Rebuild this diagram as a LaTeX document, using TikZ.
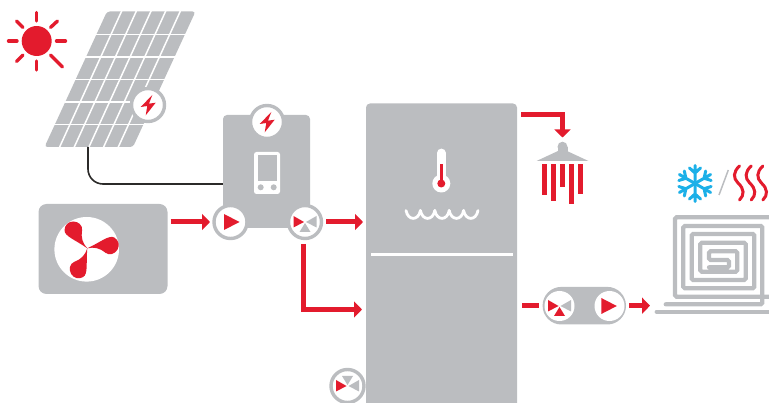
\documentclass[tikz,border=0pt]{standalone}
\usepackage{tikz}
\usetikzlibrary{arrows.meta,calc}

\definecolor{redc}{HTML}{E31B2D}
\definecolor{grayc}{HTML}{BBBDC0}
\definecolor{cyanc}{HTML}{1CB0E8}
\definecolor{wirec}{HTML}{2B2A29}

\newcommand{\valveicon}[4]{
    \fill[#2,shift={(#1)}] (-11.5,-6) -- (-11.5,5.5) -- (-1,0) -- cycle;
    \fill[grayc,shift={(#1)}] (11.5,-6) -- (11.5,5.5) -- (1,0) -- cycle;
    \fill[#3,shift={(#1)}] (0,#4*1) -- (-5.5,#4*10) -- (5.5,#4*10) -- cycle;
}
\newcommand{\pumpicon}[2]{
    \fill[redc,shift={(#1)}] (#2-6.5,-8) -- (#2-6.5,8) -- (#2+9,0) -- cycle;
}
\newcommand{\bolticon}[1]{
    \fill[redc,shift={(#1)}] (4.3,-10) -- (-7.3,2) -- (-0.7,1) -- (-2.3,10.3) -- (7.7,-2.3) -- (1,-1.3) -- cycle;
}

\begin{document}
\begin{tikzpicture}[
    x=1pt, y=-1pt,
    unit/.style={fill=grayc, rounded corners=4pt, inner sep=0pt, outer sep=0pt},
    ring/.style={circle, draw=grayc, fill=white, line width=3.4pt, minimum size=33pt, inner sep=0pt, outer sep=0pt},
    arr/.style={-{Triangle[length=8pt,width=16pt]}, redc, line width=5pt},
    ray/.style={redc, line width=3.4pt, line cap=round},
    pipe/.style={grayc, line width=4.2pt, line cap=round, rounded corners=1.5pt},
    wave/.style={white, line width=2.8pt, line cap=round},
    bar/.style={redc, line width=4.6pt},
    squig/.style={redc, line width=3pt, line cap=round},
    flakeline/.style={cyanc, line width=3pt, line cap=round}
]
\path[use as bounding box,clip] (0,0) rectangle (769,403);

\node[circle, fill=redc, minimum size=30pt, inner sep=0pt] (sun) at (36.7,41) {};
\draw[ray] (36.7,12.5) -- (36.7,21);
\draw[ray] (36.7,61) -- (36.7,70);
\draw[ray] (8.5,41) -- (17,41);
\draw[ray] (56.5,41) -- (65.5,41);
\draw[ray] (16.5,21) -- (23,27.5);
\draw[ray] (50.5,27.5) -- (57.5,21);
\draw[ray] (16.5,61.5) -- (23,55);
\draw[ray] (50.5,55) -- (62.5,67);

\fill[grayc, rounded corners=3pt] (107,11.5) -- (195.5,11.5) -- (133,147) -- (44.5,147) -- cycle;
\foreach \r in {1,...,5}
    \draw[white, line width=1.5pt] ({106-10.33*\r},{12+22.5*\r}) -- ({197-10.33*\r},{12+22.5*\r});
\foreach \c in {1,...,5}
    \draw[white, line width=1.5pt] ({107.5+14.67*\c},10) -- ({44.5+14.67*\c},148);
\coordinate (panelout) at (88,147);
\coordinate (wirein) at (223,184);
\node[ring] (panelbolt) at (148,105) {};
\bolticon{panelbolt}

\draw[wirec, line width=1.6pt, rounded corners=15pt] (panelout) |- (wirein);

\node[unit, fill=grayc, minimum width=129pt, minimum height=90pt, rounded corners=8pt] (hp) at (103,249) {};
\node[circle, fill=white, minimum size=64.6pt, inner sep=0pt] (fan) at (86.7,249.3) {};
\coordinate (fanhub) at (87.3,248.3);
\foreach \a in {0,120,240}
    \fill[redc, shift={(fanhub)}, rotate=\a] (0,0) .. controls (-4.5,-5) and (-6.5,-10) .. (-5.2,-18)
        .. controls (-4.5,-23) and (-9,-26.8) .. (-14,-26.8)
        .. controls (-19,-26.8) and (-22.8,-23) .. (-22.8,-18)
        .. controls (-22.8,-12) and (-12,-8.5) .. (0,0) -- cycle;

\node[unit, minimum width=87pt, minimum height=113pt] (ctrl) at (266.5,171.5) {};
\fill[white, rounded corners=2.5pt] (254,152) rectangle (280,194);
\fill[grayc] (257.5,155) rectangle (277,181);
\fill[grayc] (260.7,187.3) circle[radius=3pt] (273.7,187.3) circle[radius=3pt];

\node[ring] (ctrlbolt) at (267,122) {};
\bolticon{ctrlbolt}
\node[ring] (pumpa) at (230.5,222) {};
\pumpicon{pumpa}{0}
\node[ring] (valvea) at (305,222) {};
\valveicon{valvea}{redc}{grayc}{1}

\node[unit, minimum width=151pt, minimum height=320pt] (tank) at (441.5,263.5) {};
\draw[white, line width=3pt] (371,254.5) -- (513,254.5);
\coordinate (tankin) at (366,309.5);
\coordinate (tankout) at (517,115);

\draw[white, line width=8.8pt, line cap=round] (441.3,153) -- (441.3,183);
\fill[white] (441.3,183.5) circle[radius=9pt];
\draw[redc, line width=3.3pt] (441.3,164.5) -- (441.3,183);
\fill[redc] (441.3,183.5) circle[radius=4pt];
\foreach \i in {0,...,4}
    \draw[wave] ({406+14.4*\i},210.5) .. controls ({408+14.4*\i},221) and ({418.5+14.4*\i},221) .. ({420.4+14.4*\i},210.5);

\node[ring] (valvec) at (347.5,386) {};
\valveicon{valvec}{redc}{grayc}{-1}

\node[circle, fill=grayc, minimum size=10pt, inner sep=0pt] (shower) at (562.5,146.7) {};
\fill[grayc] (557.5,146.7) rectangle (567.5,153);
\fill[grayc] (536.5,161) -- (558,151) -- (567,151) -- (588.5,161) -- cycle;
\draw[bar] (544.3,164.3) -- (544.3,195);
\draw[bar] (553.3,164.3) -- (553.3,200.7);
\draw[bar] (562.7,164.3) -- (562.7,186.7);
\draw[bar] (571.7,164.3) -- (571.7,204);
\draw[bar] (580.7,164.3) -- (580.7,194.3);

\node[unit, minimum width=83.4pt, minimum height=37.6pt, rounded corners=18.7pt] (pair) at (584.3,305.7) {};
\node[circle, fill=white, minimum size=30pt, inner sep=0pt] (valveb) at (559.5,306) {};
\valveicon{valveb}{redc}{redc}{1}
\node[circle, fill=white, minimum size=30pt, inner sep=0pt] (pumpb) at (609.5,306) {};
\pumpicon{pumpb}{-1.7}
\coordinate (floorin) at (650,305.7);

\draw[arr, shorten <=3pt, shorten >=4pt] (hp.east |- pumpa) -- (pumpa);
\draw[arr, shorten <=3pt, shorten >=3pt] (valvea) ++(18,0) -- (tank.west |- valvea);
\draw[arr, shorten <=4pt, shorten >=4pt] (valvea.south) ++(-2,1.5) |- (tankin);
\draw[arr, shorten <=4pt, shorten >=4pt] (tankout) -| (shower);
\draw[redc, line width=5pt, shorten <=5pt, shorten >=3.4pt] (tank.east |- pair) -- (pair);
\draw[arr, shorten <=3pt] (pair.east) -- (floorin);

\draw[pipe] (656.7,311.7) -- (775,311.7);
\draw[pipe] (775,217.3) -- (675,217.3) -- (675,296.7) -- (775,296.7);
\draw[pipe] (665.7,304.3) -- (762.3,304.3) -- (762.3,226) -- (683.3,226) -- (683.3,288.3) -- (754.3,288.3)
    -- (754.3,234) -- (691.7,234) -- (691.7,280) -- (745.7,280) -- (745.7,242.7) -- (700.3,242.7)
    -- (700.3,271.7) -- (737.3,271.7) -- (737.3,251.3) -- (709,251.3) -- (709,260) -- (729,260)
    -- (729,267.3) -- (709,267.3);

\coordinate (flake) at (695,183.5);
\foreach \a in {0,60,...,300}
    \draw[flakeline, shift={(flake)}, rotate=\a] (0,0) -- (0,-18) (-5.5,-15.5) -- (0,-10.5) -- (5.5,-15.5);
\draw[grayc, line width=1.5pt] (728.3,170) -- (719,195);
\foreach \s in {0,1,2}
    \draw[squig] ({739.5+11.7*\s},166) .. controls ({733+11.7*\s},172) and ({733+11.7*\s},178) .. ({738+11.7*\s},183)
        .. controls ({744.5+11.7*\s},189) and ({744.5+11.7*\s},195) .. ({739.5+11.7*\s},200);
\end{tikzpicture}
\end{document}
